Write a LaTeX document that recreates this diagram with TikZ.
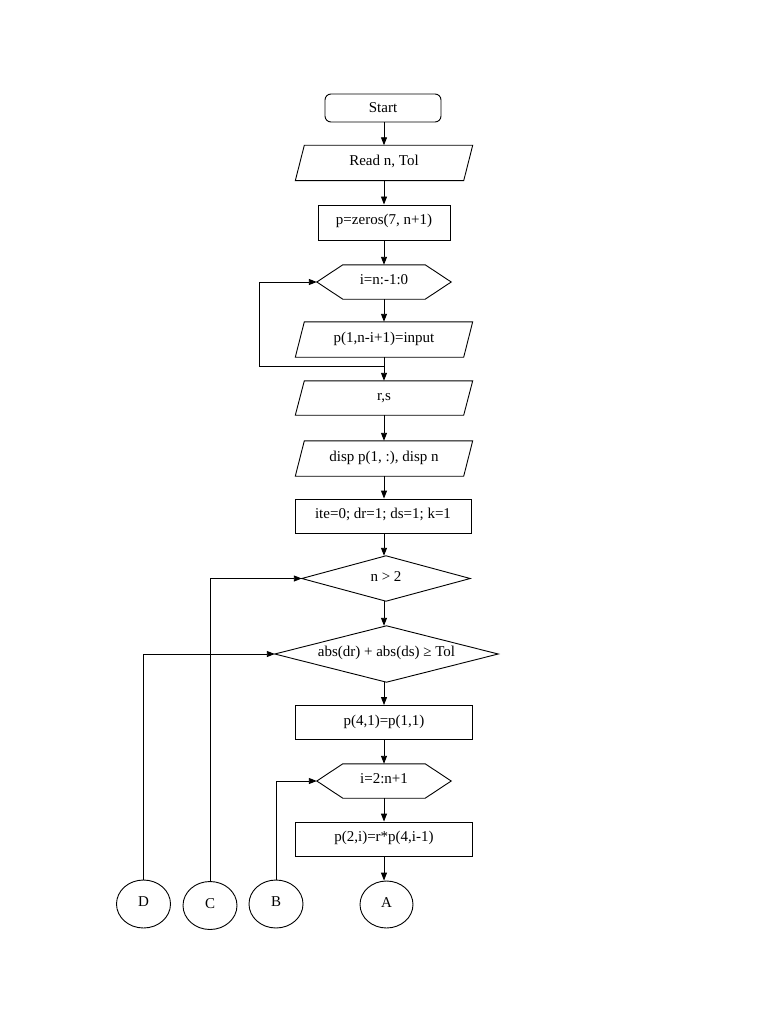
\documentclass[tikz,border=0pt]{standalone}
\usepackage{fontspec}
\setmainfont{Liberation Serif}
\usetikzlibrary{arrows.meta,shapes.geometric}
\tikzset{
  txt/.style={font=\fontsize{15}{17}\selectfont, inner sep=0pt, text height=12pt, text depth=7pt, align=center},
  ghost/.style={txt, rectangle, draw=none},
  procbox/.style={txt, rectangle, draw, line width=0.9pt},
  termbox/.style={txt, rectangle, draw, rounded corners=6pt, line width=0.9pt, text depth=3pt},
  conn/.style={txt, ellipse, draw, line width=0.9pt, minimum width=54pt, minimum height=48pt},
  outline/.style={line width=0.9pt, line join=miter},
  ln/.style={line width=0.9pt},
  arr/.style={line width=0.9pt, -{Triangle[length=8pt,width=6pt]}},
}
\newcommand{\ioshape}[1]{\draw[outline] ([xshift=9pt]#1.north west) -- (#1.north east) -- ([xshift=-9pt]#1.south east) -- (#1.south west) -- cycle;}
\newcommand{\hexshape}[1]{\draw[outline] (#1.west) -- ([xshift=26pt]#1.north west) -- ([xshift=-26pt]#1.north east) -- (#1.east) -- ([xshift=-26pt]#1.south east) -- ([xshift=26pt]#1.south west) -- cycle;}
\newcommand{\diashape}[1]{\draw[outline] (#1.west) -- (#1.north) -- (#1.east) -- (#1.south) -- cycle;}
\begin{document}
\begin{tikzpicture}[x=1pt,y=-1pt]
\useasboundingbox (0,0) rectangle (768,1024);
\fill[white] (0,0) rectangle (768,1024);

\node[termbox, minimum width=116pt, minimum height=28pt] (start) at (383,108) {Start};
\node[ghost, minimum width=177pt, minimum height=35pt] (read) at (384,163) {Read n, Tol};
\ioshape{read}
\node[procbox, minimum width=132pt, minimum height=35pt] (zeros) at (384,222.5) {p=zeros(7, n+1)};
\node[ghost, minimum width=134pt, minimum height=34pt] (hexa) at (384,282) {i=n:-1:0};
\hexshape{hexa}
\node[ghost, minimum width=177pt, minimum height=35pt] (inp) at (384,339.5) {p(1,n-i+1)=input};
\ioshape{inp}
\node[ghost, minimum width=177pt, minimum height=34pt] (rs) at (384,398) {r,s};
\ioshape{rs}
\node[ghost, minimum width=177pt, minimum height=35pt] (disp) at (384,458.5) {disp p(1, :), disp n};
\ioshape{disp}
\node[procbox, minimum width=176pt, minimum height=34pt] (ite) at (383,516) {ite=0; dr=1; ds=1; k=1};
\node[ghost, minimum width=168pt, minimum height=45pt] (ntwo) at (386,578.5) {n \textgreater{} 2};
\diashape{ntwo}
\node[ghost, minimum width=223pt, minimum height=56pt] (abst) at (386.5,654) {abs(dr) + abs(ds) ≥ Tol};
\diashape{abst}
\node[procbox, minimum width=177pt, minimum height=34pt] (pfour) at (384,722.5) {p(4,1)=p(1,1)};
\node[ghost, minimum width=134pt, minimum height=34pt] (hexb) at (384,781) {i=2:n+1};
\hexshape{hexb}
\node[procbox, minimum width=177pt, minimum height=34pt] (ptwo) at (384,839) {p(2,i)=r*p(4,i-1)};

\node[conn, minimum width=53pt, minimum height=47pt] (A) at (386.5,904.5) {A};
\node[conn] (B) at (276,904) {B};
\node[conn] (C) at (210,905.5) {C};
\node[conn] (D) at (143.5,904) {D};

\coordinate (col) at (384,0);
\draw[arr] (start.south -| col) -- (read.north);
\draw[arr] (read.south) -- (zeros.north);
\draw[arr] (zeros.south) -- (hexa.north);
\draw[arr] (hexa.south) -- (inp.north);
\draw[arr] (inp.south) -- (rs.north);
\draw[arr] (rs.south) -- (disp.north);
\draw[arr] (disp.south) -- (ite.north -| col);
\draw[arr] (ite.south -| col) -- (ntwo.north -| col);
\draw[arr] (ntwo.south -| col) -- (abst.north -| col);
\draw[arr] (abst.south -| col) -- (pfour.north);
\draw[arr] (pfour.south) -- (hexb.north);
\draw[arr] (hexb.south) -- (ptwo.north);
\draw[arr] (ptwo.south) -- (ptwo.south |- A.north);

\coordinate (jn) at (384,366);
\coordinate (lp) at (259,282);
\draw[arr] (jn) -| (lp) -- (hexa.west);
\draw[arr] (D.north) |- (abst.west);
\draw[arr] (C.north) |- (ntwo.west);
\draw[arr] (B.north) |- (hexb.west);
\end{tikzpicture}
\end{document}
